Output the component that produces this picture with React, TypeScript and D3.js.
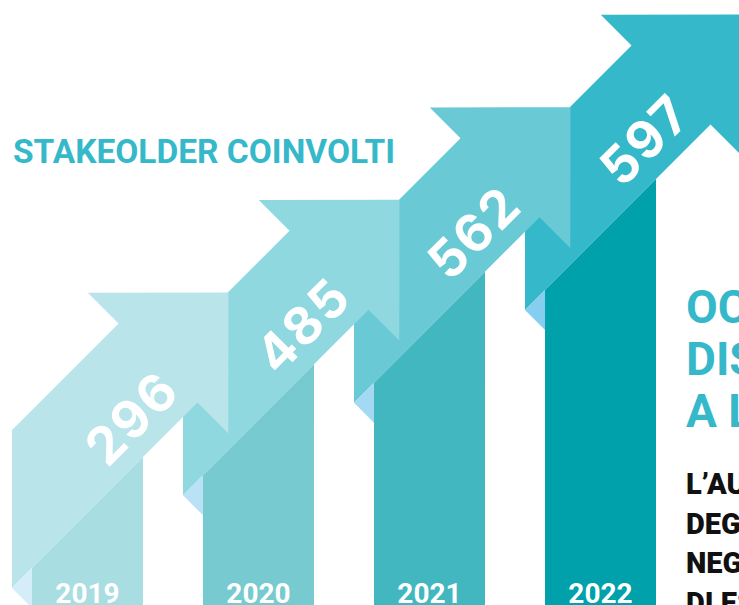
import React from "react";
import * as d3 from "d3";

// ---- data ----
const years = ["2019", "2020", "2021", "2022"];
const stakeholders = [296, 485, 562, 597];
const title = "STAKEOLDER COINVOLTI";
const headline = ["OCCASIONI", "DISTRIBUITE", "A LIVELLO"];
const bodyLines = ["L’AUMENTO", "DEGLI STAKEHOLDER", "NEGLI ANNI", "DI ESERCIZIO"];

// ---- styles ----
const W = 739;
const H = 605;
const bandColors = ["#B9E5EA", "#8FD8E0", "#69CAD6", "#35B9CA"];
const barColors = ["#A8DDE1", "#77CBD0", "#43B7BF", "#00A1AA"];
const foldColors = ["#D4EDF8", "#B9E2F6", "#A3D9F3", "#86CEF0"];
const teal = "#35B9CA";

export default function App() {
  const x = d3
    .scaleBand<string>()
    .domain(years)
    .range([32, 656])
    .paddingInner(0.351)
    .paddingOuter(0);
  const idx = d3.scaleLinear().domain([0, years.length - 1]).range([600, 835]);
  const w = x.bandwidth();
  const line = d3.line();

  // ribbon geometry in local coords (origin = fold point on bar's left edge)
  const thick = 158;
  const off = 20;
  const back = 331;
  const headLen = 141;
  const headHalf = 140.5;
  const c = -thick / 2;
  const pt = (s: number, d: number): [number, number] => [(s - d) / 2, (s + d) / 2];
  const bandPts: [number, number][] = [
    [-off, -thick + off],
    pt(-thick, -back),
    pt(c - headHalf, -back),
    pt(c, -back - headLen),
    pt(c + headHalf, -back),
    pt(0, -back),
    [-off, off],
  ];
  const foldPts: [number, number][] = [
    [-off, off],
    [0, 0],
    [0, 2 * off],
  ];

  const order = years.map((_, i) => i).reverse();

  return (
    <svg
      width={W}
      height={H}
      viewBox={`0 0 ${W} ${H}`}
      style={{ position: "absolute", left: 0, top: 0, display: "block", background: "#fff" }}
    >
      <rect width={W} height={H} fill="#fff" />
      {order.map((i) => {
        const yr = years[i];
        const x0 = x(yr) as number;
        const y0 = idx(i) - x0;
        const bottom = H + 20 - y0;
        const barPts: [number, number][] = [
          [0, 0],
          [w, -w],
          [w, bottom],
          [0, bottom],
        ];
        return (
          <g key={yr} transform={`translate(${x0},${y0})`}>
            <path d={line(bandPts) + "Z"} fill={bandColors[i]} />
            <path d={line(foldPts) + "Z"} fill={foldColors[i]} />
            <path d={line(barPts) + "Z"} fill={barColors[i]} />
            <text
              transform={`translate(100,-150) rotate(-45)`}
              textAnchor="middle"
              dominantBaseline="central"
              fill="#fff"
              fontFamily="Inter, Lato, sans-serif"
              fontWeight={700}
              fontSize={52}
              letterSpacing={2}
            >
              {stakeholders[i]}
            </text>
            <text
              x={w / 2}
              y={603 - y0}
              textAnchor="middle"
              fill="#fff"
              fontFamily="Roboto, sans-serif"
              fontWeight={700}
              fontSize={28}
            >
              {yr}
            </text>
          </g>
        );
      })}
      <text
        x={13}
        y={163}
        fill={teal}
        fontFamily="Roboto, sans-serif"
        fontWeight={700}
        fontSize={33}
        textLength={382}
        lengthAdjust="spacingAndGlyphs"
      >
        {title}
      </text>
      {headline.map((t, k) => (
        <text
          key={t}
          x={686}
          y={323 + k * 52}
          fill={teal}
          fontFamily="Roboto, sans-serif"
          fontWeight={700}
          fontSize={46}
        >
          {t}
        </text>
      ))}
      {bodyLines.map((t, k) => (
        <text
          key={t}
          x={686}
          y={494 + k * 39.5}
          fill="#111"
          fontFamily="Roboto, sans-serif"
          fontWeight={900}
          fontSize={29}
        >
          {t}
        </text>
      ))}
    </svg>
  );
}
